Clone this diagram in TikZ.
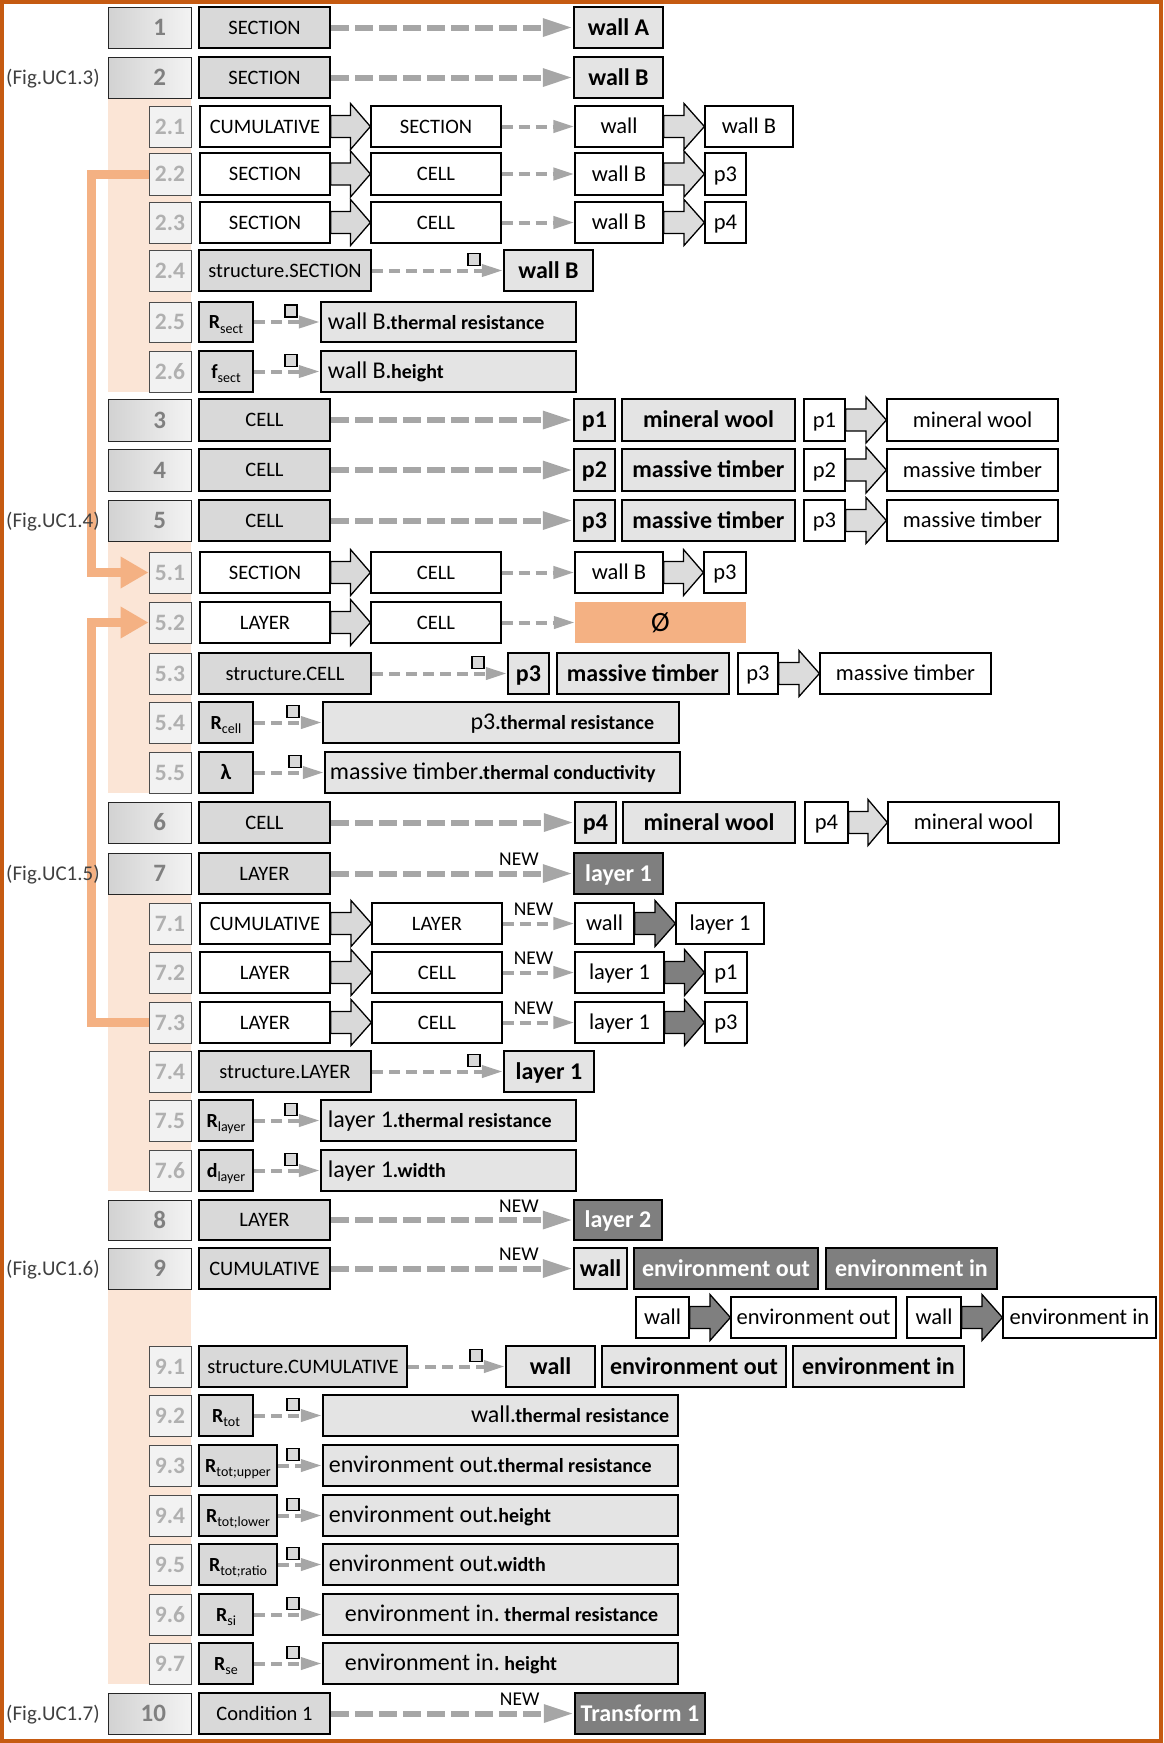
\documentclass[tikz,border=0pt]{standalone}
\usepackage{fontspec}
\setmainfont{Carlito}
\usetikzlibrary{arrows.meta,calc}
\definecolor{frameC}{RGB}{197,90,17}
\definecolor{peach}{RGB}{251,229,214}
\definecolor{orangeC}{RGB}{244,177,131}
\definecolor{srcC}{RGB}{217,217,217}
\definecolor{tgtC}{RGB}{228,228,228}
\definecolor{darkC}{RGB}{127,127,127}
\definecolor{dashC}{RGB}{166,166,166}
\definecolor{numC}{RGB}{128,128,128}
\definecolor{subnumC}{RGB}{176,176,176}
\definecolor{figC}{RGB}{64,64,64}
\definecolor{gradL}{RGB}{210,210,210}
\definecolor{gradR}{RGB}{243,243,243}
\definecolor{subfill}{RGB}{242,242,242}
\definecolor{barrC}{RGB}{220,220,220}
\newcommand{\fs}[1]{\fontsize{#1}{#1}\selectfont}
\newcommand{\bx}[7]{\node[#2, minimum width={#4-#3}, minimum height={#6-#5}] (#1) at ({(#3+#4)/2},{(#5+#6)/2}) {#7};}
\newcommand{\barr}[3]{\draw[barrow, fill=#3] ($(#1.east)+(0,-11)$) -- ($(#1.east)!0.5!(#2.west)+(0,-11)$) -- ($(#1.east)!0.5!(#2.west)+(0,-23)$) -- (#2.west) -- ($(#1.east)!0.5!(#2.west)+(0,23)$) -- ($(#1.east)!0.5!(#2.west)+(0,11)$) -- ($(#1.east)+(0,11)$) -- cycle;}
\newcommand{\Rsub}[2]{{\fs{20}\bfseries #1}\raisebox{-4.5pt}{\fs{14}#2}}
\tikzset{
 numbox/.style={draw=black!85, line width=1, left color=gradL, right color=gradR, text=numC, font=\fs{25}\bfseries, text width=33, align=right, inner sep=0, text height=16, text depth=0},
 subnum/.style={draw=black!70, line width=1, fill=subfill, text=subnumC, font=\fs{23.5}\bfseries, inner sep=0, text height=15, text depth=0},
 src/.style={draw=black, line width=2.5, fill=srcC, font=\fs{20.5}, inner sep=0, text height=13.5, text depth=0},
 wsrc/.style={draw=black, line width=1.2, fill=white, font=\fs{20.5}, inner sep=0, text height=13.5, text depth=0},
 tgt/.style={draw=black, line width=2.5, fill=tgtC, font=\fs{24}\bfseries, inner sep=0, text height=15.5, text depth=0},
 dtgt/.style={tgt, fill=darkC, text=white},
 wtgt/.style={draw=black, line width=1.2, fill=white, font=\fs{22.5}, inner sep=0, text height=14.5, text depth=0},
 ltgt/.style={draw=black, line width=2.5, fill=tgtC, inner sep=0},
 ltxt/.style={inner sep=0, anchor=base west},
 rtxt/.style={inner sep=0, anchor=base east},
 orbox/.style={fill=orangeC, font=\fs{28}, inner sep=0, text height=17, text depth=0},
 sq/.style={draw=black, line width=1.5, fill=srcC, minimum size=12, inner sep=0},
 figlab/.style={text=figC, font=\fs{21}, anchor=west, inner sep=0, text height=13.5, text depth=0},
 newlab/.style={font=\fs{19.5}, inner sep=0, anchor=base, yshift=8pt, text=black},
 longarr/.style={draw=dashC, line width=6, dash pattern=on 18pt off 6pt, -{Triangle[length=30pt,width=17pt]}},
 shortarr/.style={draw=dashC, line width=4, dash pattern=on 11pt off 6pt, -{Triangle[length=21pt,width=12pt]}},
 barrow/.style={draw=black, line width=1.3, line join=miter},
 orarr/.style={draw=orangeC, line width=9, -{Triangle[length=28pt,width=30pt]}},
}
\begin{document}
\begin{tikzpicture}[x=1pt,y=-1pt]
\useasboundingbox (0,0) rectangle (1163,1743);
% bands
\fill[peach] (108,98) rectangle (191,392);
\fill[peach] (108,541) rectangle (191,793);
\fill[peach] (108,894) rectangle (191,1191);
\fill[peach] (108,1289) rectangle (191,1684);
% Row 1
\bx{n1}{numbox}{108}{191}{7}{48}{1}
\bx{s1}{src}{199}{330}{7}{48}{SECTION}
\bx{t1}{tgt}{574}{663}{7}{48}{wall A}
% Row 2
\bx{n2}{numbox}{108}{191}{57}{98}{2}
\bx{s2}{src}{199}{330}{57}{98}{SECTION}
\bx{t2}{tgt}{574}{663}{57}{98}{wall B}
% 2.1
\bx{n21}{subnum}{149}{191}{106}{147}{2.1}
\bx{a21}{wsrc}{200}{330}{106}{147}{CUMULATIVE}
\bx{b21}{wsrc}{371}{501}{106}{147}{SECTION}
\bx{c21}{wtgt}{575}{663}{106}{147}{wall}
\bx{d21}{wtgt}{705}{793}{106}{147}{wall B}
% 2.2
\bx{n22}{subnum}{149}{191}{153}{195}{2.2}
\bx{a22}{wsrc}{200}{330}{153}{195}{SECTION}
\bx{b22}{wsrc}{371}{501}{153}{195}{CELL}
\bx{c22}{wtgt}{575}{663}{153}{195}{wall B}
\bx{d22}{wtgt}{705}{746}{153}{195}{p3}
% 2.3
\bx{n23}{subnum}{149}{191}{202}{243}{2.3}
\bx{a23}{wsrc}{200}{330}{202}{243}{SECTION}
\bx{b23}{wsrc}{371}{501}{202}{243}{CELL}
\bx{c23}{wtgt}{575}{663}{202}{243}{wall B}
\bx{d23}{wtgt}{705}{746}{202}{243}{p4}
% 2.4
\bx{n24}{subnum}{149}{191}{250}{291}{2.4}
\bx{a24}{src}{199}{371}{250}{291}{structure.SECTION}
\bx{t24}{tgt}{504}{593}{250}{291}{wall B}
% 2.5
\bx{n25}{subnum}{149}{191}{302}{342}{2.5}
\bx{a25}{src}{199}{253}{302}{342}{\Rsub{R}{sect}}
\bx{t25}{ltgt}{321}{576}{302}{342}{}
\node[ltxt] (x25) at ($(t25.west)+(8,7)$) {\fs{24}wall B\fs{20}\bfseries .thermal resistance};
% 2.6
\bx{n26}{subnum}{149}{191}{351}{392}{2.6}
\bx{a26}{src}{199}{253}{351}{392}{\Rsub{f}{sect}}
\bx{t26}{ltgt}{321}{576}{351}{392}{}
\node[ltxt] (x26) at ($(t26.west)+(8,7)$) {\fs{24}wall B\fs{20}\bfseries .height};
% Row 3
\bx{n3}{numbox}{108}{191}{399}{441}{3}
\bx{s3}{src}{199}{330}{399}{441}{CELL}
\bx{t3a}{tgt}{574}{615}{399}{441}{p1}
\bx{t3b}{tgt}{622}{795}{399}{441}{mineral wool}
\bx{w3a}{wtgt}{804}{845}{399}{441}{p1}
\bx{w3b}{wtgt}{887}{1058}{399}{441}{mineral wool}
% Row 4
\bx{n4}{numbox}{108}{191}{449}{491}{4}
\bx{s4}{src}{199}{330}{449}{491}{CELL}
\bx{t4a}{tgt}{574}{615}{449}{491}{p2}
\bx{t4b}{tgt}{622}{795}{449}{491}{massive timber}
\bx{w4a}{wtgt}{804}{845}{449}{491}{p2}
\bx{w4b}{wtgt}{887}{1058}{449}{491}{massive timber}
% Row 5
\bx{n5}{numbox}{108}{191}{500}{541}{5}
\bx{s5}{src}{199}{330}{500}{541}{CELL}
\bx{t5a}{tgt}{574}{615}{500}{541}{p3}
\bx{t5b}{tgt}{622}{795}{500}{541}{massive timber}
\bx{w5a}{wtgt}{804}{845}{500}{541}{p3}
\bx{w5b}{wtgt}{887}{1058}{500}{541}{massive timber}
% 5.1
\bx{n51}{subnum}{149}{191}{552}{593}{5.1}
\bx{a51}{wsrc}{200}{330}{552}{593}{SECTION}
\bx{b51}{wsrc}{371}{501}{552}{593}{CELL}
\bx{c51}{wtgt}{575}{663}{552}{593}{wall B}
\bx{d51}{wtgt}{704}{746}{552}{593}{p3}
% 5.2
\bx{n52}{subnum}{149}{191}{602}{643}{5.2}
\bx{a52}{wsrc}{200}{330}{602}{643}{LAYER}
\bx{b52}{wsrc}{371}{501}{602}{643}{CELL}
\bx{c52}{orbox}{575}{746}{602}{643}{Ø}
% 5.3
\bx{n53}{subnum}{149}{191}{653}{694}{5.3}
\bx{a53}{src}{199}{371}{653}{694}{structure.CELL}
\bx{t53a}{tgt}{508}{549}{653}{694}{p3}
\bx{t53b}{tgt}{557}{729}{653}{694}{massive timber}
\bx{w53a}{wtgt}{738}{778}{653}{694}{p3}
\bx{w53b}{wtgt}{820}{991}{653}{694}{massive timber}
% 5.4
\bx{n54}{subnum}{149}{191}{702}{743}{5.4}
\bx{a54}{src}{199}{253}{702}{743}{\Rsub{R}{cell}}
\bx{t54}{ltgt}{323}{679}{702}{743}{}
\node[rtxt] (x54) at ($(t54.east)+(-26,7)$) {\fs{24}p3\fs{20}\bfseries .thermal resistance};
% 5.5
\bx{n55}{subnum}{149}{191}{752}{793}{5.5}
\bx{a55}{src}{199}{253}{752}{793}{{\fs{22}\bfseries λ}}
\bx{t55}{ltgt}{325}{680}{752}{793}{}
\node[ltxt] (x55) at ($(t55.west)+(6,7)$) {\fs{24}massive timber\fs{20}\bfseries .thermal conductivity};
% Row 6
\bx{n6}{numbox}{108}{191}{802}{843}{6}
\bx{s6}{src}{199}{330}{802}{843}{CELL}
\bx{t6a}{tgt}{575}{616}{802}{843}{p4}
\bx{t6b}{tgt}{623}{795}{802}{843}{mineral wool}
\bx{w6a}{wtgt}{805}{848}{802}{843}{p4}
\bx{w6b}{wtgt}{888}{1059}{802}{843}{mineral wool}
% Row 7
\bx{n7}{numbox}{108}{191}{853}{894}{7}
\bx{s7}{src}{199}{330}{853}{894}{LAYER}
\bx{t7}{dtgt}{574}{663}{853}{894}{layer 1}
% 7.1
\bx{n71}{subnum}{149}{191}{903}{944}{7.1}
\bx{a71}{wsrc}{200}{330}{903}{944}{CUMULATIVE}
\bx{b71}{wsrc}{372}{502}{903}{944}{LAYER}
\bx{c71}{wtgt}{575}{634}{903}{944}{wall}
\bx{d71}{wtgt}{676}{764}{903}{944}{layer 1}
% 7.2
\bx{n72}{subnum}{149}{191}{952}{993}{7.2}
\bx{a72}{wsrc}{200}{330}{952}{993}{LAYER}
\bx{b72}{wsrc}{372}{502}{952}{993}{CELL}
\bx{c72}{wtgt}{575}{664}{952}{993}{layer 1}
\bx{d72}{wtgt}{705}{747}{952}{993}{p1}
% 7.3
\bx{n73}{subnum}{149}{191}{1002}{1043}{7.3}
\bx{a73}{wsrc}{200}{330}{1002}{1043}{LAYER}
\bx{b73}{wsrc}{372}{502}{1002}{1043}{CELL}
\bx{c73}{wtgt}{575}{664}{1002}{1043}{layer 1}
\bx{d73}{wtgt}{705}{747}{1002}{1043}{p3}
% 7.4
\bx{n74}{subnum}{149}{191}{1051}{1092}{7.4}
\bx{a74}{src}{199}{371}{1051}{1092}{structure.LAYER}
\bx{t74}{tgt}{504}{594}{1051}{1092}{layer 1}
% 7.5
\bx{n75}{subnum}{149}{191}{1100}{1141}{7.5}
\bx{a75}{src}{199}{253}{1100}{1141}{\Rsub{R}{layer}}
\bx{t75}{ltgt}{321}{576}{1100}{1141}{}
\node[ltxt] (x75) at ($(t75.west)+(8,7)$) {\fs{24}layer 1\fs{20}\bfseries .thermal resistance};
% 7.6
\bx{n76}{subnum}{149}{191}{1150}{1191}{7.6}
\bx{a76}{src}{199}{253}{1150}{1191}{\Rsub{d}{layer}}
\bx{t76}{ltgt}{321}{576}{1150}{1191}{}
\node[ltxt] (x76) at ($(t76.west)+(8,7)$) {\fs{24}layer 1\fs{20}\bfseries .width};
% Row 8
\bx{n8}{numbox}{108}{191}{1200}{1240}{8}
\bx{s8}{src}{199}{330}{1200}{1240}{LAYER}
\bx{t8}{dtgt}{574}{662}{1200}{1240}{layer 2}
% Row 9
\bx{n9}{numbox}{108}{191}{1248}{1289}{9}
\bx{s9}{src}{199}{330}{1248}{1289}{CUMULATIVE}
\bx{t9a}{tgt}{574}{627}{1248}{1289}{wall}
\bx{t9b}{dtgt}{634}{818}{1248}{1289}{environment out}
\bx{t9c}{dtgt}{826}{997}{1248}{1289}{environment in}
% Row 9 second line
\bx{w9a}{wtgt}{636}{689}{1297}{1338}{wall}
\bx{w9b}{wtgt}{731}{896}{1297}{1338}{environment out}
\bx{w9c}{wtgt}{907}{961}{1297}{1338}{wall}
\bx{w9d}{wtgt}{1003}{1156}{1297}{1338}{environment in}
% 9.1
\bx{n91}{subnum}{149}{191}{1346}{1387}{9.1}
\bx{a91}{src}{199}{407}{1346}{1387}{structure.CUMULATIVE}
\bx{t91a}{tgt}{506}{595}{1346}{1387}{wall}
\bx{t91b}{tgt}{602}{786}{1346}{1387}{environment out}
\bx{t91c}{tgt}{793}{964}{1346}{1387}{environment in}
% 9.2
\bx{n92}{subnum}{149}{191}{1395}{1436}{9.2}
\bx{a92}{src}{199}{253}{1395}{1436}{\Rsub{R}{tot}}
\bx{t92}{ltgt}{323}{678}{1395}{1436}{}
\node[rtxt] (x92) at ($(t92.east)+(-10,7)$) {\fs{24}wall\fs{20}\bfseries .thermal resistance};
% 9.3
\bx{n93}{subnum}{149}{191}{1445}{1486}{9.3}
\bx{a93}{src}{199}{277}{1445}{1486}{\Rsub{R}{tot;upper}}
\bx{t93}{ltgt}{323}{678}{1445}{1486}{}
\node[ltxt] (x93) at ($(t93.west)+(7,7)$) {\fs{24}environment out\fs{20}\bfseries .thermal resistance};
% 9.4
\bx{n94}{subnum}{149}{191}{1495}{1536}{9.4}
\bx{a94}{src}{199}{277}{1495}{1536}{\Rsub{R}{tot;lower}}
\bx{t94}{ltgt}{323}{678}{1495}{1536}{}
\node[ltxt] (x94) at ($(t94.west)+(7,7)$) {\fs{24}environment out\fs{20}\bfseries .height};
% 9.5
\bx{n95}{subnum}{149}{191}{1544}{1585}{9.5}
\bx{a95}{src}{199}{277}{1544}{1585}{\Rsub{R}{tot;ratio}}
\bx{t95}{ltgt}{323}{678}{1544}{1585}{}
\node[ltxt] (x95) at ($(t95.west)+(7,7)$) {\fs{24}environment out\fs{20}\bfseries .width};
% 9.6
\bx{n96}{subnum}{149}{191}{1594}{1635}{9.6}
\bx{a96}{src}{199}{253}{1594}{1635}{\Rsub{R}{si}}
\bx{t96}{ltgt}{323}{678}{1594}{1635}{}
\node[ltxt] (x96) at ($(t96.west)+(23,7)$) {\fs{24}environment in.\fs{20}\bfseries\ thermal resistance};
% 9.7
\bx{n97}{subnum}{149}{191}{1643}{1684}{9.7}
\bx{a97}{src}{199}{253}{1643}{1684}{\Rsub{R}{se}}
\bx{t97}{ltgt}{323}{678}{1643}{1684}{}
\node[ltxt] (x97) at ($(t97.west)+(23,7)$) {\fs{24}environment in.\fs{20}\bfseries\ height};
% Row 10
\bx{n10}{numbox}{108}{191}{1693}{1734}{10}
\bx{s10}{src}{199}{330}{1693}{1734}{Condition 1}
\bx{t10}{dtgt}{575}{705}{1693}{1734}{Transform 1}

% long dashed arrows
\draw[longarr] (s1.east) -- (t1.west);
\draw[longarr] (s2.east) -- (t2.west);
\draw[longarr] (s3.east) -- (t3a.west);
\draw[longarr] (s4.east) -- (t4a.west);
\draw[longarr] (s5.east) -- (t5a.west);
\draw[longarr] (s6.east) -- (t6a.west);
\draw[longarr] (s7.east) -- node[newlab, pos=0.777] {NEW} (t7.west);
\draw[longarr] (s8.east) -- node[newlab, pos=0.777] {NEW} (t8.west);
\draw[longarr] (s9.east) -- node[newlab, pos=0.777] {NEW} (t9a.west);
\draw[longarr] (s10.east) -- node[newlab, pos=0.777] {NEW} (t10.west);
% short dashed arrows
\foreach \r in {21,22,23,51,52} {\draw[shortarr] (b\r.east) -- (c\r.west);}
\foreach \r in {71,72,73} {\draw[shortarr] (b\r.east) -- node[newlab, pos=0.43] {NEW} (c\r.west);}
\draw[shortarr] (a24.east) -- (t24.west);
\draw[shortarr] (a53.east) -- (t53a.west);
\draw[shortarr] (a74.east) -- (t74.west);
\draw[shortarr] (a91.east) -- (t91a.west);
\foreach \r in {25,26,54,55,75,76,92,93,94,95,96,97} {\draw[shortarr] (a\r.east) -- (t\r.west);}
% small squares
\node[sq] (q24) at ($(t24.west)+(-29,-11)$) {};
\node[sq] (q53) at ($(t53a.west)+(-29,-11)$) {};
\node[sq] (q74) at ($(t74.west)+(-29,-11)$) {};
\node[sq] (q91) at ($(t91a.west)+(-29,-11)$) {};
\foreach \r in {25,26,54,55,75,76,92,93,94,95,96,97} {\node[sq] (q\r) at ($(t\r.west)+(-29,-11)$) {};}
% block arrows
\barr{a21}{b21}{srcC}
\barr{a22}{b22}{srcC}
\barr{a23}{b23}{srcC}
\barr{a51}{b51}{srcC}
\barr{a52}{b52}{srcC}
\barr{a71}{b71}{srcC}
\barr{a72}{b72}{srcC}
\barr{a73}{b73}{srcC}
\barr{c21}{d21}{barrC}
\barr{c22}{d22}{barrC}
\barr{c23}{d23}{barrC}
\barr{c51}{d51}{barrC}
\barr{w3a}{w3b}{barrC}
\barr{w4a}{w4b}{barrC}
\barr{w5a}{w5b}{barrC}
\barr{w6a}{w6b}{barrC}
\barr{w53a}{w53b}{barrC}
\barr{c71}{d71}{darkC}
\barr{c72}{d72}{darkC}
\barr{c73}{d73}{darkC}
\barr{w9a}{w9b}{darkC}
\barr{w9c}{w9d}{darkC}
% orange connectors
\draw[orarr] (n22.west) -- ++(-57,0) |- (n51.west);
\draw[orarr] (n73.west) -- ++(-57,0) |- (n52.west);
% figure labels
\node[figlab] (f3) at (6,77.5) {(Fig.UC1.3)};
\node[figlab] (f4) at (6,520.5) {(Fig.UC1.4)};
\node[figlab] (f5) at (6,873.5) {(Fig.UC1.5)};
\node[figlab] (f6) at (6,1268.5) {(Fig.UC1.6)};
\node[figlab] (f7) at (6,1713.5) {(Fig.UC1.7)};
% frame
\draw[frameC, line width=4] (2,2) rectangle (1160.5,1741);
\end{tikzpicture}
\end{document}
